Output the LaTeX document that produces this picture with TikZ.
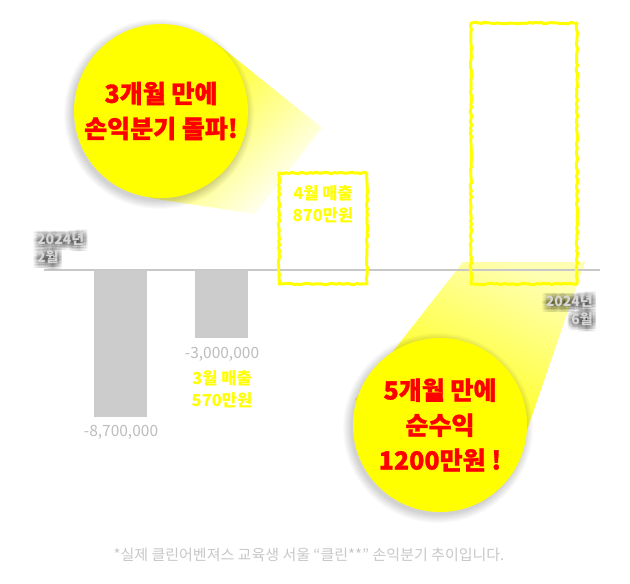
\documentclass[tikz,border=0pt]{standalone}
\usepackage{fontspec}
\setmainfont{Noto Sans CJK KR}
\usetikzlibrary{decorations.pathmorphing}
\definecolor{yel}{HTML}{FFFF00}
\definecolor{redt}{HTML}{FF0000}
\definecolor{lbl}{HTML}{BDBDBD}
\definecolor{axisc}{HTML}{C8C8C8}
\definecolor{barc}{HTML}{CCCCCC}
\definecolor{datec}{HTML}{D6D6D6}
\definecolor{footc}{HTML}{C8C8C8}
\tikzset{
  wobbly/.style={draw=yel, line width=3pt, line join=round, line cap=round,
    decorate, decoration={random steps, segment length=3pt, amplitude=0.7pt}},
  bubble/.style={circle, fill=yel, minimum size=174pt, inner sep=0pt, align=center,
    text=redt, font=\fontsize{25}{35}\selectfont\bfseries\addfontfeature{FakeBold=1.2}},
  numlbl/.style={text=lbl, font=\fontsize{15.5}{17}\selectfont, inner sep=0pt},
  yellbl/.style={text=yel, font=\fontsize{16.5}{22}\selectfont\bfseries, align=center, inner sep=0pt},
  datelbl/.style={text=datec, font=\fontsize{14}{18}\selectfont\bfseries, inner sep=0pt},
  dateshadow/.style={text=black, text opacity=0.032, font=\fontsize{14}{18}\selectfont\bfseries, inner sep=0pt},
  softshadow/.style={fill=black, opacity=0.02},
}
\begin{document}
\begin{tikzpicture}[x=1pt,y=-1pt]
\useasboundingbox[fill=white] (0,0) rectangle (630,584);
% spotlight beams
\shade[top color=yel, bottom color=white, shading angle=45]
  (215,42) -- (322,128) -- (255,214) -- (150,198) -- cycle;
\shade[top color=yel!30!white, bottom color=yel, shading angle=-26]
  (463,262) -- (585,262) -- (527,430) -- (440,425) -- (355,400) -- cycle;
% axis and bars
\draw[axisc, line width=1.5pt] (44,270) -- (600,270);
\fill[barc] (94,270) rectangle (147,417);
\fill[barc] (195,270) rectangle (248,338);
% outlined positive bars
\draw[wobbly] (279,173) rectangle (367,284);
\draw[wobbly] (471,23) rectangle (577,284);
% soft shadows of bubbles
\foreach \r in {87,88,...,95}{
  \fill[softshadow] (159,114) circle (\r);
  \fill[softshadow] (438,428) circle (\r);
}
% bubbles
\node[bubble] (b1) at (161,111) {3개월 만에\\손익분기 돌파!};
\node[bubble] (b2) at (440,425) {5개월 만에\\순수익\\1200만원 !};
% value labels
\node[numlbl] (v1) at (121,432) {-8,700,000};
\node[numlbl] (v2) at (222,354) {-3,000,000};
\node[yellbl] (m3) at (222,389) {3월 매출\\570만원};
\node[yellbl] (m4) at (323,204) {4월 매출\\870만원};
% date labels with soft text shadow
\foreach \dx in {-4.5,-3,-1.5,0,1.5,3,4.5}{\foreach \dy in {-3,-1.5,0,1.5,3,4.5,6}{
  \node[dateshadow, anchor=north west, align=left] (ds1\dx\dy) at (37+\dx,232+\dy) {2024년\\2월};
  \node[dateshadow, anchor=north east, align=right] (ds2\dx\dy) at (593+\dx,294+\dy) {2024년\\6월};
}}
\node[datelbl, anchor=north west, align=left] (d1) at (37,232) {2024년\\2월};
\node[datelbl, anchor=north east, align=right] (d2) at (593,294) {2024년\\6월};
% footnote
\node[text=footc, font=\fontsize{15}{17}\selectfont, inner sep=0pt] (fn) at (309,555)
  {*실제 클린어벤져스 교육생 서울 “클린**” 손익분기 추이입니다.};
\end{tikzpicture}
\end{document}
